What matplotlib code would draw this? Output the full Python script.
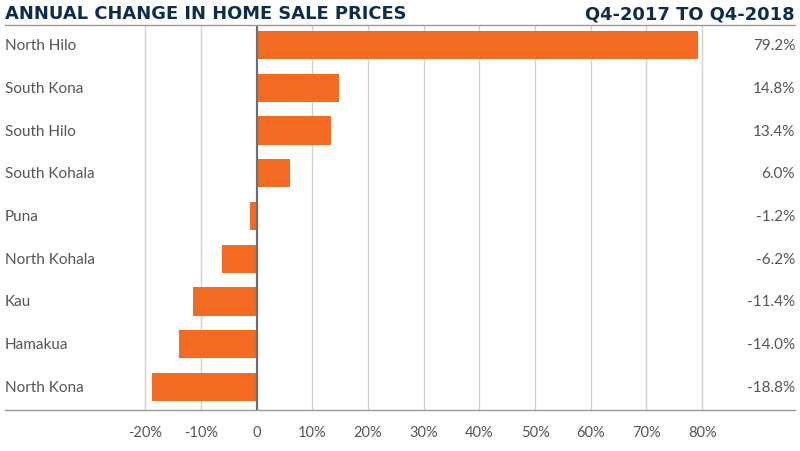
import matplotlib
matplotlib.use('Agg')
import matplotlib.pyplot as plt
import matplotlib.transforms as mtransforms

regions = ["North Hilo", "South Kona", "South Hilo", "South Kohala", "Puna",
           "North Kohala", "Kau", "Hamakua", "North Kona"]
changes = [79.2, 14.8, 13.4, 6.0, -1.2, -6.2, -11.4, -14.0, -18.8]
ticks = [-20, -10, 0, 10, 20, 30, 40, 50, 60, 70, 80]
tick_labels = ["-20%", "-10%", "0", "10%", "20%", "30%", "40%", "50%", "60%", "70%", "80%"]

orange = "#F26B21"
navy = "#0E2D4E"
grey_txt = "#555555"

plt.rcParams['font.family'] = ['Lato', 'DejaVu Sans']

W, H = 800, 452
fig = plt.figure(figsize=(W / 100, H / 100), dpi=100)
# axes placed in pixel terms (top at header rule, bottom at axis line)
ax = fig.add_axes([5 / W, (H - 411) / H, 790 / W, (411 - 26) / H])

ypos = list(range(len(regions)))
ax.barh(ypos, changes, height=0.66, color=orange, zorder=3)

# x scale: zero at px 256.5, 55.7 px per 10%
px10 = 55.7
ax.set_xlim((5 - 256.5) / px10 * 10, (795 - 256.5) / px10 * 10)
ax.set_ylim(8.54, -0.47)

for t in ticks:
    if t == 0:
        ax.axvline(0, color="#6b6f73", lw=1.6, zorder=4)
    else:
        ax.axvline(t, color="#d0d0d0", lw=1.0, zorder=1)

ax.set_xticks(ticks)
ax.set_xticklabels(tick_labels, fontsize=10.5, color=grey_txt)
ax.tick_params(axis='x', length=0, pad=11)
ax.set_yticks([])

for s in ["top", "left", "right"]:
    ax.spines[s].set_visible(False)
ax.spines["bottom"].set_color("#9a9a9a")
ax.spines["bottom"].set_linewidth(1.0)

trans = mtransforms.blended_transform_factory(ax.transAxes, ax.transData)
for i, (name, v) in enumerate(zip(regions, changes)):
    ax.text(0.0, i, name, transform=trans, ha="left", va="center",
            fontsize=11, color=grey_txt)
    ax.text(1.0, i, "%.1f%%" % v, transform=trans, ha="right", va="center",
            fontsize=11, color=grey_txt)

# header
fig.text(5 / W, 1 - 14 / H, "ANNUAL CHANGE IN HOME SALE PRICES", ha="left", va="center",
         fontsize=12.9, fontweight="bold", color=navy, family="DejaVu Sans")
fig.text(795 / W, 1 - 14 / H, "Q4-2017 TO Q4-2018", ha="right", va="center",
         fontsize=12.9, fontweight="bold", color=navy, family="DejaVu Sans")
fig.add_artist(plt.Line2D([5 / W, 795 / W], [1 - 26 / H, 1 - 26 / H],
                          color="#9a9a9a", lw=1.0, transform=fig.transFigure))

plt.savefig("out.png", dpi=100)
